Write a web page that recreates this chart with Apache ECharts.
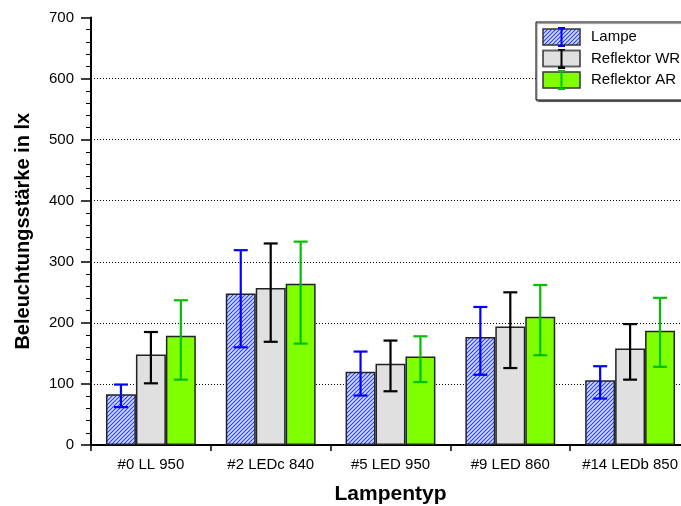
<!DOCTYPE html>
<html>
<head>
<meta charset="utf-8">
<script src="https://cdn.jsdelivr.net/npm/echarts@6/dist/echarts.min.js"></script>
<style>
html,body{margin:0;padding:0;background:#fff;overflow:hidden;}
#chart{width:681px;height:506px;}
</style>
</head>
<body>
<div id="chart"></div>
<script>
var categories = ['#0 LL 950', '#2 LEDc 840', '#5 LED 950', '#9 LED 860', '#14 LEDb 850'];
var seriesNames = ['Lampe', 'Reflektor WR', 'Reflektor AR'];
var lampe = [83, 248, 120, 177, 106];
var lampeLow = [62, 160, 81, 115, 76];
var lampeHigh = [99, 319, 153, 226, 129];
var wr = [148, 257, 133, 194, 158];
var wrLow = [101, 169, 88, 126, 107];
var wrHigh = [185, 330, 171, 250, 198];
var ar = [179, 264, 145, 210, 187];
var arLow = [107, 166, 103, 147, 128];
var arHigh = [237, 333, 178, 262, 241];
var yTicks = [0, 100, 200, 300, 400, 500, 600, 700];

var FONT = 'Liberation Sans, Arial, sans-serif';

function hatchCanvas() {
  var c = document.createElement('canvas');
  c.width = 4; c.height = 4;
  var g = c.getContext('2d');
  g.fillStyle = '#d2ddff';
  g.fillRect(0, 0, 4, 4);
  g.strokeStyle = '#2a3cff';
  g.lineWidth = 1.1;
  g.beginPath();
  g.moveTo(-1, 5); g.lineTo(5, -1);
  g.moveTo(-3, 3); g.lineTo(3, -3);
  g.moveTo(1, 7); g.lineTo(7, 1);
  g.stroke();
  return c;
}
var hatch = hatchCanvas();

function legendIcon(fill, errColor) {
  var c = document.createElement('canvas');
  c.width = 39; c.height = 20;
  var g = c.getContext('2d');
  if (fill === 'hatch') {
    g.fillStyle = g.createPattern(hatch, 'repeat');
  } else {
    g.fillStyle = fill;
  }
  g.fillRect(1, 2, 37, 16);
  g.strokeStyle = '#333';
  g.lineWidth = 1.5;
  g.strokeRect(1, 2, 37, 16);
  g.strokeStyle = errColor;
  g.lineWidth = 2;
  g.beginPath();
  g.moveTo(19.5, 1); g.lineTo(19.5, 19);
  g.moveTo(16, 1); g.lineTo(23, 1);
  g.moveTo(16, 19); g.lineTo(23, 19);
  g.stroke();
  return 'image://' + c.toDataURL();
}

var barColors = [{image: hatch, repeat: 'repeat'}, '#e0e0e0', '#80ff00'];
var errColors = ['#0000ff', '#000000', '#00c000'];
var values = [lampe, wr, ar];
var lows = [lampeLow, wrLow, arLow];
var highs = [lampeHigh, wrHigh, arHigh];

var chart = echarts.init(document.getElementById('chart'), null, {renderer: 'canvas'});

var series = [];
for (var s = 0; s < 3; s++) {
  series.push({
    name: seriesNames[s],
    type: 'bar',
    data: values[s],
    barGap: '0%',
    barCategoryGap: '25%',
    itemStyle: {color: barColors[s], borderColor: '#222', borderWidth: 1.5},
    emphasis: {disabled: true},
    z: 2
  });
}
for (var s2 = 0; s2 < 3; s2++) {
  (function (idx) {
    var d = [];
    for (var i = 0; i < categories.length; i++) d.push([i, lows[idx][i], highs[idx][i]]);
    series.push({
      name: seriesNames[idx] + ' err',
      type: 'custom',
      data: d,
      encode: {x: 0, y: [1, 2]},
      z: 5,
      silent: true,
      renderItem: function (params, api) {
        var ci = api.value(0);
        var band = api.size([1, 0])[0];
        var off = (idx - 1) * band * 0.25;
        var lo = api.coord([ci, api.value(1)]);
        var hi = api.coord([ci, api.value(2)]);
        var x = lo[0] + off;
        var hw = 7;
        var st = {stroke: errColors[idx], lineWidth: 2.2, fill: null};
        return {
          type: 'group',
          children: [
            {type: 'line', shape: {x1: x, y1: lo[1], x2: x, y2: hi[1]}, style: st},
            {type: 'line', shape: {x1: x - hw, y1: lo[1], x2: x + hw, y2: lo[1]}, style: st},
            {type: 'line', shape: {x1: x - hw, y1: hi[1], x2: x + hw, y2: hi[1]}, style: st}
          ]
        };
      }
    });
  })(s2);
}

chart.setOption({
  animation: false,
  backgroundColor: '#fff',
  textStyle: {fontFamily: FONT},
  grid: {left: 91, top: 17.5, bottom: 61, right: -9, containLabel: false, outerBoundsMode: 'none'},
  legend: {
    left: 536, top: 22,
    orient: 'vertical',
    backgroundColor: '#fff',
    borderColor: '#000',
    borderWidth: 1,
    padding: [5, 60, 10, 6],
    itemWidth: 39,
    itemHeight: 20,
    itemGap: 1.5,
    shadowColor: 'rgba(0,0,0,0.45)',
    shadowOffsetY: 1.5,
    shadowOffsetX: 1,
    shadowBlur: 1,
    textStyle: {fontSize: 15, color: '#000', fontFamily: FONT, padding: [0, 0, 0, 5]},
    selectedMode: false,
    data: [
      {name: 'Lampe', icon: legendIcon('hatch', errColors[0])},
      {name: 'Reflektor WR', icon: legendIcon('#e0e0e0', errColors[1])},
      {name: 'Reflektor AR', icon: legendIcon('#80ff00', errColors[2])}
    ]
  },
  xAxis: {
    type: 'category',
    data: categories,
    name: 'Lampentyp',
    nameLocation: 'middle',
    nameGap: 39,
    nameTextStyle: {fontSize: 21, fontWeight: 'bold', color: '#000', fontFamily: FONT},
    axisLine: {lineStyle: {color: '#000', width: 2}},
    axisTick: {show: true, length: 6, lineStyle: {color: '#000', width: 1.5}},
    axisLabel: {fontSize: 15, color: '#000', margin: 12, interval: 0, fontFamily: FONT},
    splitLine: {show: false}
  },
  yAxis: {
    type: 'value',
    min: yTicks[0],
    max: yTicks[yTicks.length - 1],
    interval: 100,
    name: 'Beleuchtungsstärke in lx',
    nameLocation: 'middle',
    nameGap: 58,
    nameTextStyle: {fontSize: 20, fontWeight: 'bold', color: '#000', fontFamily: FONT},
    axisLine: {show: true, lineStyle: {color: '#000', width: 2}},
    axisTick: {show: true, length: 10, lineStyle: {color: '#000', width: 1.5}},
    minorTick: {show: true, splitNumber: 5, length: 5, lineStyle: {color: '#000', width: 1}},
    axisLabel: {fontSize: 15, color: '#000', margin: 17, fontFamily: FONT},
    splitLine: {show: true, showMinLine: false, showMaxLine: false, lineStyle: {color: '#000', type: [1, 2], width: 1}}
  },
  series: series
});
</script>
</body>
</html>
